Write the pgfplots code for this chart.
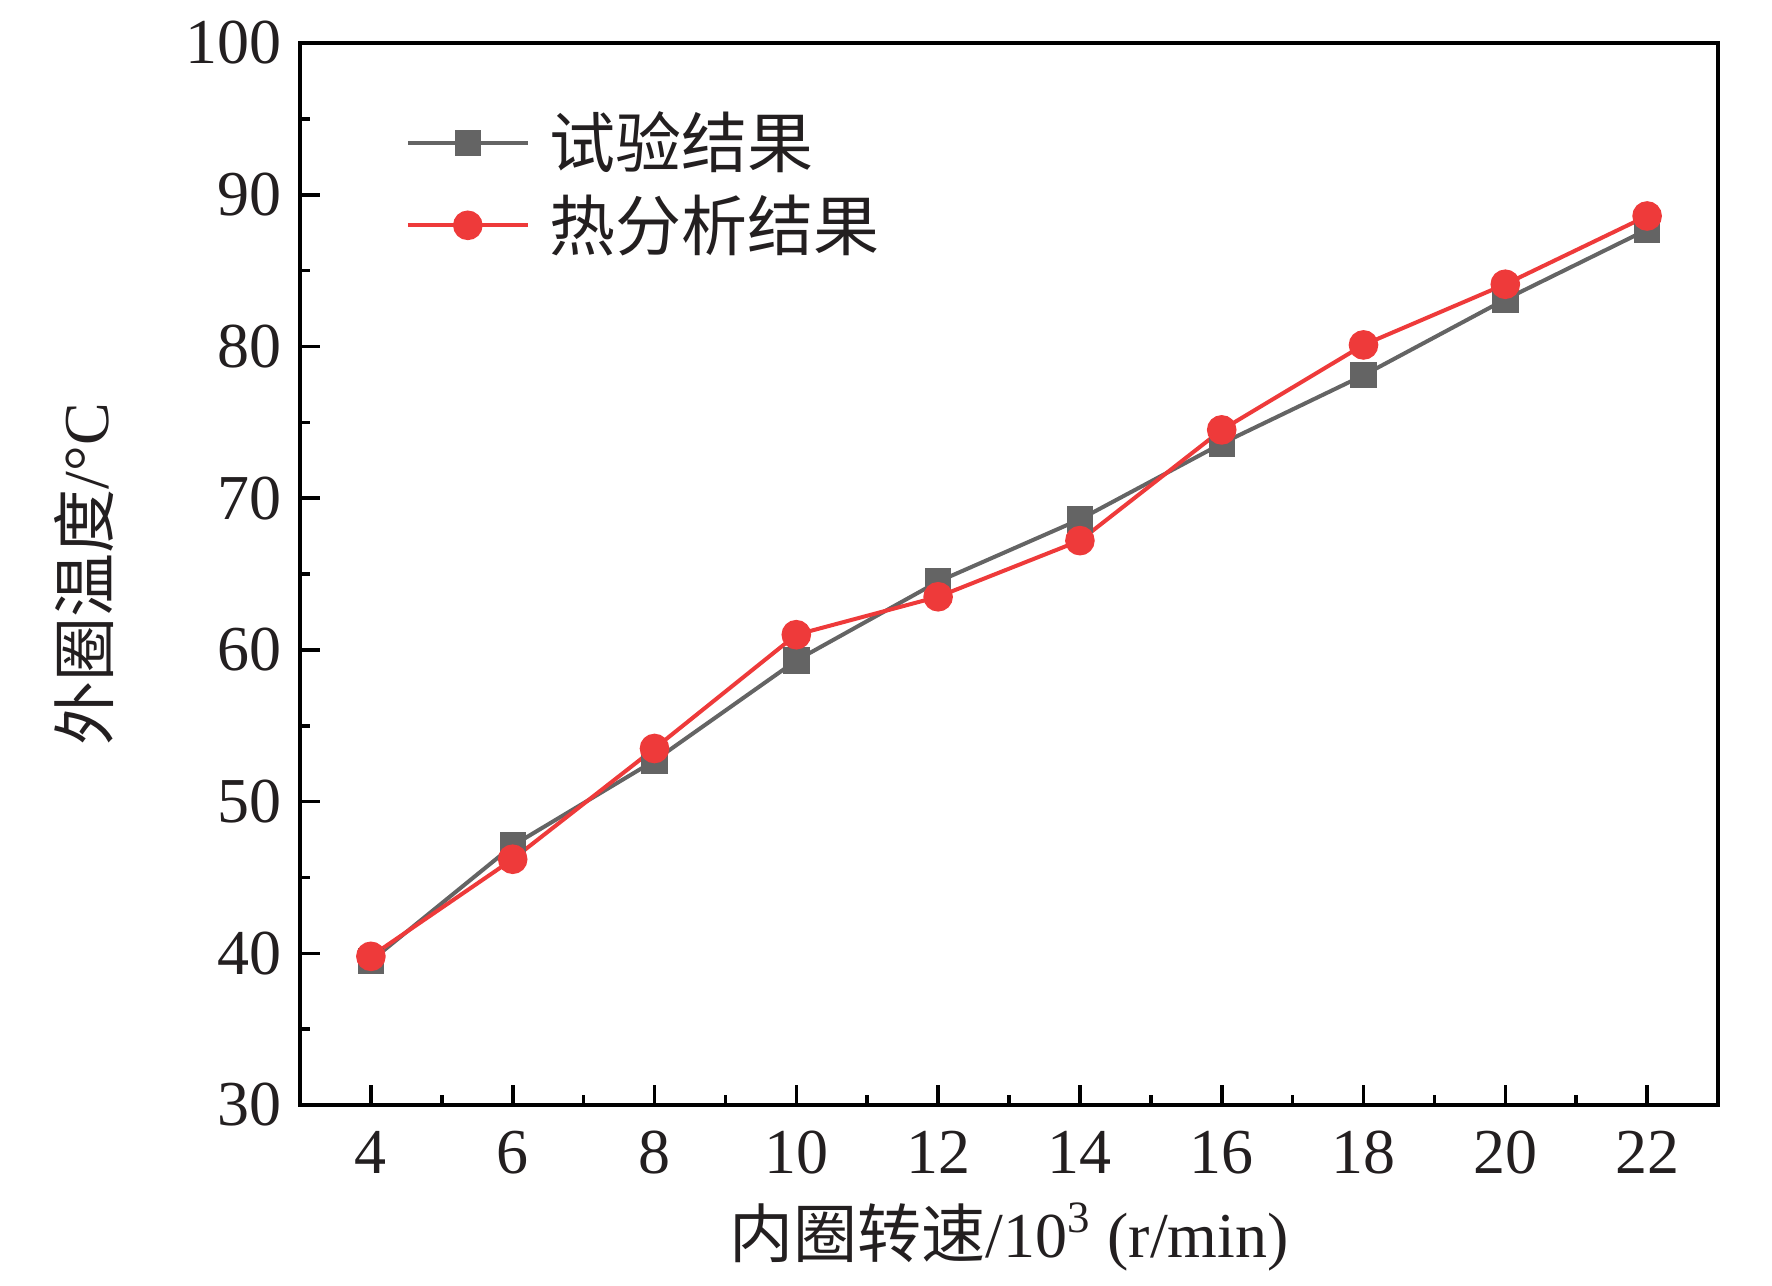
\documentclass[border=0pt]{standalone}
\usepackage{pgfplots}
\pgfplotsset{compat=1.18}
\usepackage{fontspec}
\setmainfont{Liberation Serif}
\newfontfamily\cjk{Noto Sans CJK SC}
\definecolor{sgray}{RGB}{100,100,100}
\definecolor{sred}{RGB}{238,58,58}
\definecolor{txt}{RGB}{35,31,32}
\begin{document}
\begin{tikzpicture}
\begin{axis}[
  scale only axis,
  width=354.5pt, height=265.5pt,
  xmin=3, xmax=23, ymin=30, ymax=100,
  xtick={4,6,...,22}, ytick={30,40,...,100},
  minor x tick num=1, minor y tick num=1,
  tick align=inside, xtick pos=left, ytick pos=left,
  major tick length=5pt, minor tick length=2.5pt,
  every tick/.style={line width=0.9pt, black},
  axis line style={line width=1pt, black},
  /pgf/number format/assume math mode=true,
  tick label style={font=\fontsize{16}{19}\selectfont, text=txt},
  yticklabel style={xshift=-1pt},
  xticklabel style={yshift=-3pt},
  xlabel={{\cjk 内圈转速}/10\textsuperscript{3} (r/min)},
  ylabel={{\cjk 外圈温度}/°C},
  label style={font=\fontsize{16}{19}\selectfont, text=txt},
  xlabel style={at={(axis description cs:0.5,-0.124)}, anchor=center},
  ylabel style={at={(axis description cs:-0.152,0.5)}, anchor=center, rotate=0},
  legend style={draw=none, fill=none, font=\fontsize{16.5}{19}\selectfont, text=txt,
    at={(axis description cs:0.0656,0.951)}, anchor=north west, row sep=1.2pt,
    cells={anchor=west}},
  legend image code/.code={\draw[mark repeat=2,mark phase=2] plot coordinates {(0pt,0pt) (15pt,0pt) (30pt,0pt)};\path (33pt,0pt);},
]
\addplot[color=sgray, line width=1pt, mark=square*, mark size=2.8pt, mark options={solid, fill=sgray, draw=sgray}] coordinates {
(4,39.5) (6,47.1) (8,52.7) (10,59.3) (12,64.5) (14,68.6) (16,73.6) (18,78.1) (20,83.1) (22,87.7)};
\addlegendentry{\cjk 试验结果}
\addplot[color=sred, line width=1pt, mark=*, mark size=3.2pt, mark options={solid, fill=sred, draw=sred}] coordinates {
(4,39.8) (6,46.2) (8,53.5) (10,61.0) (12,63.5) (14,67.2) (16,74.5) (18,80.1) (20,84.1) (22,88.6)};
\addlegendentry{\cjk 热分析结果}
\end{axis}
\pgfresetboundingbox
\useasboundingbox (-75pt,-45pt) rectangle (368pt,276.25pt);
\end{tikzpicture}
\end{document}
